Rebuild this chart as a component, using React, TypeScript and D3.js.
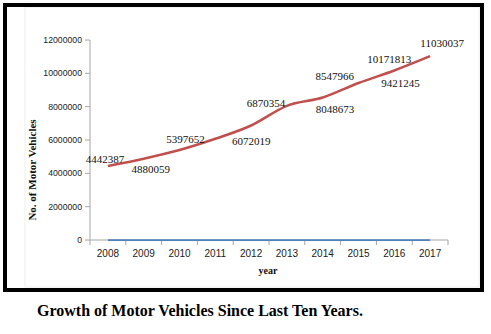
import React from "react";
import * as d3 from "d3";

const years = ["2008", "2009", "2010", "2011", "2012", "2013", "2014", "2015", "2016", "2017"];
const vehicles = [4442387, 4880059, 5397652, 6072019, 6870354, 8048673, 8547966, 9421245, 10171813, 11030037];
const yearSeries = [0, 0, 0, 0, 0, 0, 0, 0, 0, 0];
const yTicks = [0, 2000000, 4000000, 6000000, 8000000, 10000000, 12000000];
// label placement offsets (px) relative to each point
const labelDx = [-3, 7, 6, 36, 15, 48, 12, 42, -5, 12];
const labelDy = [-7, 10, -11, 2, -22, 3, -21, 0, -11, -13];

export default function App() {
  const W = 491, H = 334;
  const left = 90, right = 448, top = 40, bottom = 240;
  const x = d3.scaleBand<string>().domain(years).range([left, right]);
  const y = d3.scaleLinear().domain([0, 12000000]).range([bottom, top]);
  const cx = (d: string) => (x(d) as number) + x.bandwidth() / 2;
  const line = d3.line<number>().x((_, i) => cx(years[i])).y((v) => y(v));
  const serif = "'Liberation Serif', 'Times New Roman', serif";
  const sans = "'Liberation Sans', Arial, sans-serif";
  const boundaries = [...years.map((d) => x(d) as number), right];
  return (
    <svg width={W} height={H} style={{ position: "absolute", left: 0, top: 0, background: "#fff" }}>
      <rect x={25} y={7} width={454} height={280} fill="none" stroke="#eeeeee" strokeWidth={1} />
      <rect x={5} y={5} width={477} height={285} fill="none" stroke="#000" strokeWidth={4} />
      {/* y axis */}
      <line x1={left} x2={left} y1={top} y2={bottom} stroke="#a6a6a6" strokeWidth={1} />
      {yTicks.map((t) => (
        <g key={t}>
          <line x1={left - 5} x2={left} y1={y(t)} y2={y(t)} stroke="#a6a6a6" />
          <text x={left - 8} y={y(t)} dy="0.35em" textAnchor="end" fontFamily={sans} fontSize={8.7} fill="#222">
            {t}
          </text>
        </g>
      ))}
      {/* x axis */}
      <line x1={left} x2={right} y1={bottom} y2={bottom} stroke="#a6a6a6" strokeWidth={1} />
      {boundaries.map((b, i) => (
        <line key={i} x1={b} x2={b} y1={bottom} y2={bottom + 5} stroke="#a6a6a6" />
      ))}
      {years.map((d) => (
        <text key={d} x={cx(d)} y={bottom + 13} dy="0.35em" textAnchor="middle" fontFamily={sans} fontSize={10} fill="#222">
          {d}
        </text>
      ))}
      <path d={line(yearSeries) || ""} fill="none" stroke="#4f81bd" strokeWidth={1.75} />
      <path d={line.curve(d3.curveMonotoneX)(vehicles) || ""} fill="none" stroke="#c0504d" strokeWidth={2.5} />
      {vehicles.map((v, i) => (
        <text
          key={i}
          x={cx(years[i]) + labelDx[i]}
          y={y(v) + labelDy[i]}
          dy="0.35em"
          textAnchor="middle"
          fontFamily={serif}
          fontSize={11}
          fill="#111"
        >
          {v}
        </text>
      ))}
      <text
        transform={`translate(32,170) rotate(-90)`}
        dy="0.35em"
        textAnchor="middle"
        fontFamily={serif}
        fontWeight="bold"
        fontSize={11}
        fill="#111"
      >
        No. of Motor Vehicles
      </text>
      <text x={268} y={270} dy="0.35em" textAnchor="middle" fontFamily={serif} fontWeight="bold" fontSize={10} fill="#111">
        year
      </text>
      <text x={37} y={310} dy="0.35em" textAnchor="start" fontFamily={serif} fontWeight="bold" fontSize={16} fill="#000">
        Growth of Motor Vehicles Since Last Ten Years.
      </text>
    </svg>
  );
}
